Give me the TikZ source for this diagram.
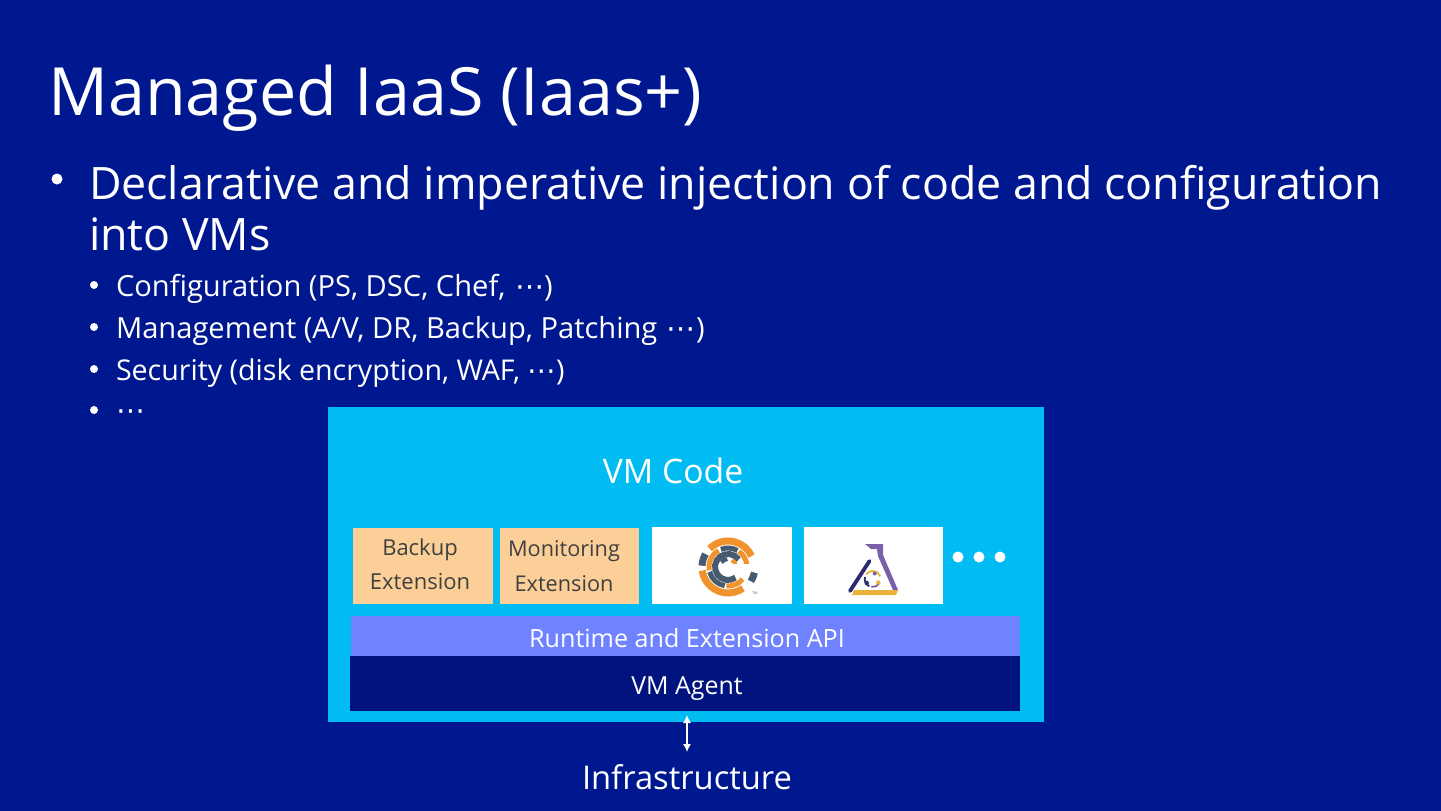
\documentclass[tikz,border=0pt]{standalone}
\usepackage{fontspec}
\setmainfont{Open Sans}
\newfontfamily\symfont{DejaVu Sans}
\usetikzlibrary{arrows.meta}
\definecolor{bgblue}{HTML}{00188F}
\definecolor{cyanbox}{HTML}{00BCF2}
\definecolor{peach}{HTML}{FBCF97}
\definecolor{peri}{HTML}{6F82FF}
\definecolor{agent}{HTML}{00137F}
\definecolor{orangel}{HTML}{F0932B}
\definecolor{slatel}{HTML}{465A70}
\definecolor{purplel}{HTML}{7A60A8}
\definecolor{navyl}{HTML}{2E2A70}
\definecolor{yell}{HTML}{E8B23C}
\tikzset{
  txt/.style={anchor=base west,inner sep=0pt,outer sep=0pt,text=white},
  boxr/.style={anchor=north west,inner sep=0pt,outer sep=0pt,minimum width=#1},
  ctxt/.style={anchor=base,inner sep=0pt,outer sep=0pt,text=white},
  dtxt/.style={anchor=base,inner sep=0pt,outer sep=0pt,text=black!75},
  bul/.style={circle,fill=white,inner sep=0pt,outer sep=0pt,minimum size=#1},
}
\newcommand{\fs}[1]{\fontsize{#1}{#1}\selectfont}
\newcommand{\dts}{{\symfont ⋯}}
% ring segment: colour, width, radius, from, to
\newcommand{\seg}[5]{\draw[#1,line width=#2pt] (#4:#3) arc[start angle=#4,end angle=#5,radius=#3];}
\begin{document}
\begin{tikzpicture}[x=1pt,y=-1pt]
\useasboundingbox (0,0) rectangle (1441,811);
\fill[bgblue] (0,0) rectangle (1441,811);
\node[txt] (title) at (48,115) {\fs{66.5}Managed IaaS (Iaas+)};
\node[bul=11] (b1) at (57,179) {};
\node[txt] (l1) at (89,199) {\fs{44.7}Declarative and imperative injection of code and configuration};
\node[txt] (l2) at (89,250) {\fs{44.7}into VMs};
\node[bul=8] (s1) at (94,285) {};
\node[bul=8] (s2) at (94,327) {};
\node[bul=8] (s3) at (94,369) {};
\node[bul=8] (s4) at (94,410) {};
\node[txt] (t1) at (116,296) {\fs{29.1}Configuration (PS, DSC, Chef,\hspace{2pt} \dts)};
\node[txt] (t2) at (116,338) {\fs{29.1}Management (A/V, DR, Backup, Patching\hspace{2pt} \dts)};
\node[txt] (t3) at (116,380) {\fs{28.6}Security (disk encryption, WAF, \dts)};
\node[txt] (t4) at (116,420) {\fs{28.9}\dts};
\node[boxr=716pt,minimum height=315pt,fill=cyanbox] (vm) at (328,407) {};
\node[ctxt] (vmt) at (673,483) {\fs{33.7}VM Code};
\node[boxr=140pt,minimum height=76pt,fill=peach] (bk) at (353,528) {};
\node[boxr=139pt,minimum height=76pt,fill=peach] (mo) at (500,528) {};
\node[dtxt] (bk1) at (420,555) {\fs{22}Backup};
\node[dtxt] (bk2) at (420,589) {\fs{22}Extension};
\node[dtxt] (mo1) at (564,556) {\fs{21.7}Monitoring};
\node[dtxt] (mo2) at (564,591) {\fs{21.7}Extension};
\node[boxr=140pt,minimum height=77pt,fill=white] (chef) at (652,527) {};
\node[boxr=139pt,minimum height=77pt,fill=white] (flask) at (804,527) {};
\node[bul=11] (d1) at (958,557) {};
\node[bul=11] (d2) at (979,557) {};
\node[bul=11] (d3) at (1000,557) {};
\node[boxr=669pt,minimum height=40pt,fill=peri] (api) at (351,616) {};
\node[ctxt] (apit) at (687,647) {\fs{25.1}Runtime and Extension API};
\node[boxr=670pt,minimum height=55pt,fill=agent] (ag) at (350,656) {};
\node[ctxt] (agt) at (687,694) {\fs{24.9}VM Agent};
\node[ctxt] (inf) at (687,789) {\fs{32.7}Infrastructure};
\coordinate (ca) at (687,715);
\coordinate (cb) at (687,752);
\draw[white,line width=1.2pt,{Latex[length=8pt,width=8pt]}-{Latex[length=8pt,width=8pt]}] (ca) -- (cb);
% chef-like logo
\begin{scope}[shift={(728,567)}]
 \seg{orangel}{7}{26}{55}{172}
 \seg{orangel}{7}{26}{225}{335}
 \seg{slatel}{7}{27}{12}{32}
 \seg{slatel}{7}{26}{183}{210}
 \seg{slatel}{5}{19}{100}{165}
 \seg{orangel}{5}{19}{40}{95}
 \seg{orangel}{5}{19}{170}{240}
 \seg{slatel}{5}{19}{248}{300}
 \seg{orangel}{5}{19}{305}{352}
 \seg{slatel}{6}{13}{55}{325}
 \seg{orangel}{4}{8}{300}{350}
 \seg{slatel}{4}{8}{215}{265}
 \fill[white] (3,-3.5) rectangle (32,3.5);
\end{scope}
\node[inner sep=0pt,text=slatel] (tm) at (755,593) {\fs{3.5}TM};
% flask-like logo
\fill[purplel] (865,544) -- (883,544) -- (883,555) -- (898,590) -- (893,590) -- (878,556) -- (877,549) -- (871,549) -- cycle;
\draw[navyl,line width=3.8pt,line cap=round] (869.5,561) -- (850,591);
\fill[yell] (854,590) -- (898,590) -- (896,595) -- (852,595) -- cycle;
\begin{scope}[shift={(872.7,579)}]
 \seg{purplel}{1.8}{8}{30}{100}
 \seg{navyl}{1.8}{8}{115}{195}
 \seg{yell}{1.8}{8}{215}{340}
 \fill[navyl] (-6,4) circle (2.2);
 \fill[purplel] (2,-5.5) circle (2);
 \fill[yell] (5.6,3.5) circle (2.2);
\end{scope}
\end{tikzpicture}
\end{document}
